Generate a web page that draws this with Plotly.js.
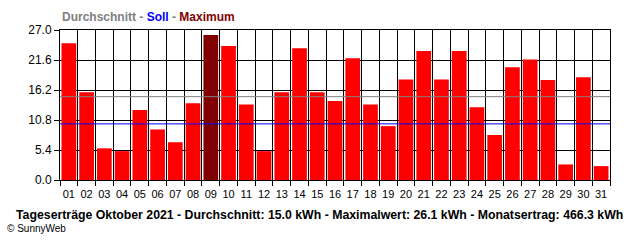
<!DOCTYPE html>
<html>
<head>
<meta charset="utf-8">
<script src="https://cdn.plot.ly/plotly-3.0.1.min.js"></script>
<style>html,body{margin:0;padding:0;background:#fff;}#chart{width:640px;height:240px;}</style>
</head>
<body>
<div id="chart"></div>
<script>
const days = ["01","02","03","04","05","06","07","08","09","10","11","12","13","14","15","16","17","18","19","20","21","22","23","24","25","26","27","28","29","30","31"];
const yields = [24.6, 15.8, 5.7, 5.2, 12.6, 9.1, 6.8, 13.8, 26.1, 24.1, 13.6, 5.2, 15.8, 23.7, 15.8, 14.2, 21.9, 13.6, 9.7, 18.1, 23.2, 18.1, 23.2, 13.1, 8.1, 20.3, 21.7, 18.0, 2.8, 18.5, 2.5];
const average = 15.0;
const target = 10.1;
const maxValue = 26.1;
const monthTotal = 466.3;
const yTicks = [0, 5.4, 10.8, 16.2, 21.6, 27.0];

const maxIdx = yields.indexOf(Math.max(...yields));
const colors = yields.map((v, i) => i === maxIdx ? "#800000" : "#FF0000");

const trace = {
  type: "bar",
  x: days,
  y: yields,
  marker: {color: colors, line: {width: 0}},
  hoverinfo: "x+y"
};

const layout = {
  width: 640, height: 240,
  margin: {l: 60, r: 30, t: 30, b: 60, pad: 0},
  paper_bgcolor: "#fff", plot_bgcolor: "#fff",
  font: {family: "Liberation Sans, Arial, sans-serif", size: 12, color: "#000"},
  bargap: 0.17,
  showlegend: false,
  xaxis: {
    type: "category",
    tickson: "boundaries",
    tickangle: 0,
    ticklabelstandoff: 4,
    showgrid: true, gridcolor: "#000", gridwidth: 1,
    ticks: "outside", ticklen: 5, tickcolor: "#000", tickwidth: 1,
    showline: true, linecolor: "#000", linewidth: 1, mirror: true,
    tickfont: {size: 11, color: "#000"},
    fixedrange: true
  },
  yaxis: {
    range: [0, 27],
    tickvals: yTicks,
    ticktext: yTicks.map(v => v.toFixed(1)),
    showgrid: true, gridcolor: "#000", gridwidth: 1,
    zeroline: false,
    ticks: "outside", ticklen: 5, tickcolor: "#000", tickwidth: 1,
    showline: true, linecolor: "#000", linewidth: 1, mirror: true,
    tickfont: {size: 12, color: "#000"},
    fixedrange: true
  },
  shapes: [
    {type: "line", xref: "paper", x0: 0, x1: 1, yref: "y", y0: average, y1: average, line: {color: "#808080", width: 1}},
    {type: "line", xref: "paper", x0: 0, x1: 1, yref: "y", y0: target, y1: target, line: {color: "#0000FF", width: 1}}
  ],
  annotations: [
    {xref: "paper", yref: "paper", x: 0, y: 1, xanchor: "left", yanchor: "bottom", yshift: 4, showarrow: false,
     text: '<b><span style="color:#808080">Durchschnitt - </span><span style="color:#0000FF">Soll</span><span style="color:#808080"> - </span><span style="color:#800000">Maximum</span></b>',
     font: {size: 12}},
    {xref: "paper", yref: "paper", x: 0.471, y: -0.233, xanchor: "center", yanchor: "middle", showarrow: false,
     text: "<b>Tageserträge Oktober 2021 - Durchschnitt: " + average.toFixed(1) + " kWh - Maximalwert: " + maxValue.toFixed(1) + " kWh - Monatsertrag: " + monthTotal.toFixed(1) + " kWh</b>",
     font: {size: 12.3, color: "#000"}},
    {xref: "paper", yref: "paper", x: -0.1, y: -0.27, xanchor: "left", yanchor: "top", showarrow: false,
     text: "© SunnyWeb", font: {size: 10, color: "#000"}}
  ]
};

Plotly.newPlot("chart", [trace], layout, {displayModeBar: false, staticPlot: true});
</script>
</body>
</html>
